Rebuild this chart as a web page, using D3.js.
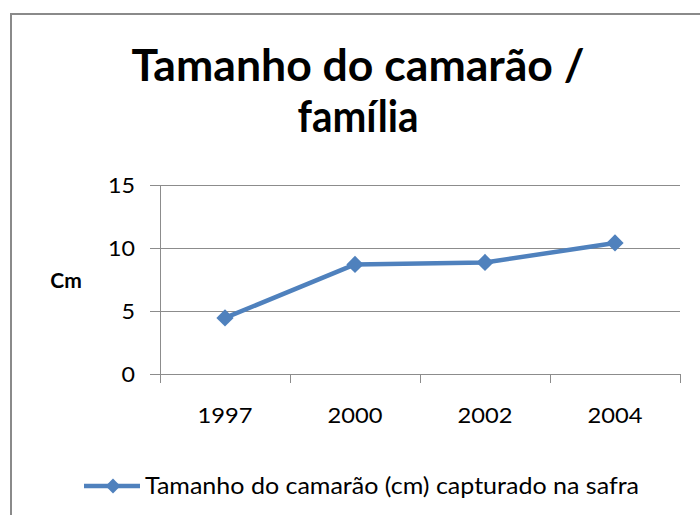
<!DOCTYPE html>
<html><head><meta charset="utf-8">
<script src="https://cdn.jsdelivr.net/npm/d3@7"></script>
<style>body{margin:0;background:#fff}svg{display:block}</style>
</head><body>
<script>
const categories = ["1997", "2000", "2002", "2004"];
const values = [4.45, 8.7, 8.85, 10.4];
const yTicks = [0, 5, 10, 15];
const seriesName = "Tamanho do camarão (cm) capturado na safra";
const titleLines = ["Tamanho do camarão /", "família"];
const yLabel = "Cm";

const W = 700, H = 515;
const svg = d3.select("body").append("svg").attr("width", W).attr("height", H);
const font = "Lato, Carlito, 'Liberation Sans', sans-serif";
const col = "#4F81BD", grid = "#8c8c8c";

// frame
svg.append("path").attr("d", "M11,515 V14 H700").attr("fill","none").attr("stroke","#8a8a8a").attr("stroke-width",2);

const x = d3.scaleBand().domain(categories).range([160, 680]);
const y = d3.scaleLinear().domain([0, 15]).range([374, 185]);

// title
const titleW = [453, 121];
svg.append("g").selectAll("text").data(titleLines).join("text")
  .attr("x", 358).attr("y", (d,i)=>81 + i*51)
  .attr("text-anchor","middle").attr("font-family",font).attr("font-weight","bold")
  .attr("font-size",43).attr("fill","#000")
  .attr("textLength",(d,i)=>titleW[i]).attr("lengthAdjust","spacingAndGlyphs").text(d=>d);

// grid
svg.append("g").selectAll("line").data(yTicks).join("line")
  .attr("x1",150).attr("x2",680).attr("y1",d=>y(d)).attr("y2",d=>y(d))
  .attr("stroke",grid).attr("stroke-width",1).attr("shape-rendering","crispEdges");

// y axis
const ya = svg.append("g").attr("transform","translate(160,0)")
  .call(d3.axisLeft(y).tickValues(yTicks).tickSize(10).tickPadding(15));
ya.select(".domain").attr("stroke",grid);
ya.selectAll(".tick line").attr("stroke",grid);
ya.selectAll("text").attr("font-family",font).attr("font-size",22).attr("fill","#000")
  .attr("textLength",d=>String(d).length*13.5).attr("lengthAdjust","spacingAndGlyphs");

// x axis
const xa = svg.append("g").attr("transform","translate(0,374)")
  .call(d3.axisBottom(x).tickSize(0).tickPadding(33));
xa.select(".domain").remove();
xa.selectAll("text").attr("font-family",font).attr("font-size",22).attr("fill","#000")
  .attr("textLength",55).attr("lengthAdjust","spacingAndGlyphs");
const bounds = categories.map(c=>x(c)).concat([x.range()[1]]);
svg.append("g").selectAll("line").data(bounds).join("line")
  .attr("x1",d=>d).attr("x2",d=>d).attr("y1",374).attr("y2",383)
  .attr("stroke",grid).attr("shape-rendering","crispEdges");
svg.append("line").attr("x1",160).attr("x2",680).attr("y1",374).attr("y2",374)
  .attr("stroke",grid).attr("shape-rendering","crispEdges");

// y label
svg.append("text").attr("x",66).attr("y",288).attr("text-anchor","middle")
  .attr("font-family",font).attr("font-weight","bold").attr("font-size",21).text(yLabel);

// line
const cx = c => x(c) + x.bandwidth()/2;
svg.append("path").datum(values)
  .attr("d", d3.line().x((d,i)=>cx(categories[i])).y(d=>y(d)))
  .attr("fill","none").attr("stroke",col).attr("stroke-width",4.5).attr("stroke-linejoin","round");
const diamond = d3.symbol().type(d3.symbolDiamond2).size(190);
svg.append("g").selectAll("path").data(values).join("path")
  .attr("transform",(d,i)=>`translate(${cx(categories[i])},${y(d)})`)
  .attr("d", diamond).attr("fill",col);

// legend
const lg = svg.append("g");
lg.append("line").attr("x1",84).attr("x2",140).attr("y1",486).attr("y2",486).attr("stroke",col).attr("stroke-width",4.5);
lg.append("path").attr("transform","translate(113,486)").attr("d",d3.symbol().type(d3.symbolDiamond2).size(140)).attr("fill",col);
lg.append("text").attr("x",145).attr("y",494).attr("font-family",font).attr("font-size",23)
  .attr("textLength",494).attr("lengthAdjust","spacingAndGlyphs").text(seriesName);
</script>
</body></html>
